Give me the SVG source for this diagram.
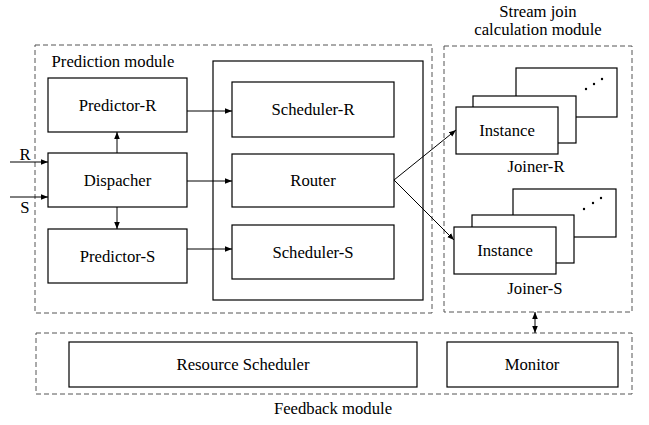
<svg xmlns="http://www.w3.org/2000/svg" width="649" height="425" viewBox="0 0 649 425">
<style>
text{font-family:"Liberation Serif","Times New Roman",serif;font-size:16.7px;fill:#000;text-anchor:middle}
.box{fill:#fff;stroke:#000;stroke-width:1.2}
.dash{fill:none;stroke:#555;stroke-width:1;stroke-dasharray:5,3}
.ln{fill:none;stroke:#000;stroke-width:1}
</style>
<defs>
<marker id="ah" viewBox="0 0 10 10" refX="10" refY="5" markerWidth="7" markerHeight="7" orient="auto-start-reverse" markerUnits="userSpaceOnUse">
<path d="M0,1 L10,5 L0,9 z" fill="#000"/>
</marker>
</defs>
<rect width="649" height="425" fill="#fff"/>
<g id="prediction-module">
<rect class="dash" x="35" y="45" width="397" height="268"/>
<text x="113" y="67">Prediction module</text>
</g>
<g id="stream-join-module">
<rect class="dash" x="444" y="46" width="188" height="266"/>
<text x="538" y="17">Stream join</text>
<text x="538" y="35">calculation module</text>
</g>
<g id="feedback-module">
<rect class="dash" x="36" y="333" width="596" height="61"/>
<text x="333" y="414">Feedback module</text>
</g>

<g id="predictor-r"><rect class="box" x="48" y="78" width="139" height="54"/><text x="117.5" y="111">Predictor-R</text></g>
<g id="dispacher"><rect class="box" x="48" y="153" width="139" height="54"/><text x="117.5" y="186">Dispacher</text></g>
<g id="predictor-s"><rect class="box" x="48" y="229" width="139" height="54"/><text x="117.5" y="262">Predictor-S</text></g>

<g id="scheduler-group"><rect class="box" x="213" y="61" width="210" height="239"/></g>
<g id="scheduler-r"><rect class="box" x="232" y="82" width="162" height="55"/><text x="313" y="115">Scheduler-R</text></g>
<g id="router"><rect class="box" x="232" y="154" width="162" height="53"/><text x="313" y="186">Router</text></g>
<g id="scheduler-s"><rect class="box" x="232" y="225" width="162" height="54"/><text x="313" y="258">Scheduler-S</text></g>

<g id="joiner-r">
<rect class="box" x="516" y="68" width="101" height="49"/>
<circle cx="586" cy="89" r="1.2"/><circle cx="594" cy="84" r="1.2"/><circle cx="602" cy="79" r="1.2"/>
<rect class="box" x="473" y="96" width="103" height="47"/>
<rect class="box" x="456" y="107" width="102" height="47"/>
<text x="507" y="136">Instance</text>
<text x="536" y="172">Joiner-R</text>
</g>
<g id="joiner-s">
<rect class="box" x="513" y="189" width="103" height="48"/>
<circle cx="584" cy="209" r="1.2"/><circle cx="593" cy="203" r="1.2"/><circle cx="601" cy="198" r="1.2"/>
<rect class="box" x="472" y="215" width="102" height="48"/>
<rect class="box" x="454" y="227" width="102" height="47"/>
<text x="505" y="256">Instance</text>
<text x="535" y="294">Joiner-S</text>
</g>

<g id="resource-scheduler"><rect class="box" x="69" y="342" width="348" height="45"/><text x="243" y="370">Resource Scheduler</text></g>
<g id="monitor"><rect class="box" x="447" y="342" width="171" height="45"/><text x="532" y="370">Monitor</text></g>

<g id="inputs">
<text x="25" y="160">R</text>
<text x="25" y="213">S</text>
</g>
<g id="connectors">
<line class="ln" x1="10" y1="162" x2="48" y2="162" marker-end="url(#ah)"/>
<line class="ln" x1="10" y1="197" x2="48" y2="197" marker-end="url(#ah)"/>
<line class="ln" x1="117" y1="153" x2="117" y2="132" marker-end="url(#ah)"/>
<line class="ln" x1="117" y1="207" x2="117" y2="229" marker-end="url(#ah)"/>
<line class="ln" x1="187" y1="111" x2="232" y2="111" marker-end="url(#ah)"/>
<line class="ln" x1="187" y1="181" x2="232" y2="181" marker-end="url(#ah)"/>
<line class="ln" x1="187" y1="249" x2="232" y2="249" marker-end="url(#ah)"/>
<line class="ln" x1="394" y1="180" x2="456" y2="130" marker-end="url(#ah)"/>
<line class="ln" x1="394" y1="180" x2="454" y2="240" marker-end="url(#ah)"/>
<line class="ln" x1="535" y1="312" x2="535" y2="333" marker-start="url(#ah)" marker-end="url(#ah)"/>
</g>
</svg>
